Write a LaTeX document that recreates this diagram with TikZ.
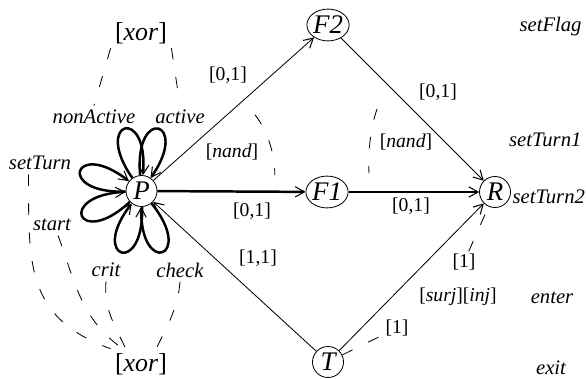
\documentclass[tikz,border=0pt]{standalone}
\usepackage{fontspec}
\setmainfont{Liberation Serif}
\usetikzlibrary{arrows.meta,shapes.geometric}
\tikzset{
  >={Straight Barb[length=4.5pt,width=5pt,line width=0.5pt]},
  font=\fontsize{10}{12}\selectfont,
  state/.style ={draw, circle, inner sep=0pt, minimum size=15pt, font=\fontsize{13}{15}\selectfont\itshape},
  flag/.style  ={draw, ellipse, inner sep=0pt, minimum width=19.3pt, minimum height=15.4pt, font=\fontsize{13}{15}\selectfont\itshape},
  arr/.style   ={->},
  barr/.style  ={->, very thick},
  petal/.style ={->, very thick, distance=34pt},
  cons/.style  ={dash pattern=on 5.5pt off 8.5pt},
  lbl/.style   ={font=\fontsize{9.5}{11}\selectfont, inner sep=1pt},
  fname/.style ={font=\itshape, inner sep=2pt},
  grp/.style   ={font=\fontsize{12.5}{14}\selectfont, inner sep=2pt},
}
\begin{document}
\begin{tikzpicture}[x=0.17mm, y=-0.17mm]
  \useasboundingbox (0,0) rectangle (586,379);
  % states
  \node[state] (P) at (141.5,191) {P};
  \node[flag] (F2) at (328,25) {F2};
  \node[flag] (F1) at (327,192) {F1};
  \node[state] (R) at (495,192) {R};
  \node[state] (T) at (328,362) {T};
  % self loops of P
  \foreach \a [evaluate=\a as \o using \a+20, evaluate=\a as \i using \a-20] in {75,105,162,203,252,289}
    \draw[petal] (P) to[out=\o, in=\i] (P);
  \node[fname] (nact) at (94,117) {nonActive};
  \node[fname] (actv) at (180,117) {active};
  \node[fname] (sett) at (40,163) {setTurn};
  \node[fname] (strt) at (52,225) {start};
  \node[fname] (crit) at (106,270) {crit};
  \node[fname] (chk) at (180,270) {check};
  \node[grp] (xt) at (141,33) {[\textit{xor}]};
  \node[grp] (xb) at (141,364) {[\textit{xor}]};
  % transitions
  \draw[arr] (P) -- (F2);
  \draw[barr] (P) -- (F1);
  \draw[arr] (T) -- (P);
  \draw[arr] (F2) -- (R);
  \draw[barr] (F1) -- (R);
  \draw[arr] (T) -- (R);
  % multiplicities
  \node[lbl] (m1) at (228,75) {[0,1]};
  \node[lbl] (m2) at (252,211) {[0,1]};
  \node[lbl] (m3) at (258,258) {[1,1]};
  \node[lbl] (m4) at (438,92) {[0,1]};
  \node[lbl] (m5) at (411,206) {[0,1]};
  \node[lbl] (onea) at (464,262) {[1]};
  \node[lbl] (sj) at (458,297) {[\textit{surj}][\textit{inj}]};
  \node[lbl] (oneb) at (397,328) {[1]};
  \node[lbl] (np) at (232,152) {[\textit{nand}]};
  \node[lbl] (nr) at (406,142) {[\textit{nand}]};
  % constraints
  \draw[cons] (xt.south west) -- (nact.north);
  \draw[cons] (xt.south east) -- (actv.north);
  \draw[cons] (sett.225) to[out=-90, in=160, looseness=1.2] (xb.north west);
  \draw[cons] (strt.-60) to[out=-70, in=145] (xb.140);
  \draw[cons] (crit.south) to[out=-95, in=115] (xb.135);
  \draw[cons] (chk.south) to[out=-95, in=65] (xb.45);
  \path (P) -- coordinate[pos=.56] (pa) (F2);
  \path (P) -- coordinate[pos=.79] (pb) (F1);
  \draw[cons, shorten <=9pt, shorten >=8pt] (pa) to[bend left=20] (pb);
  \path (F2) -- coordinate[pos=.32] (ra) (R);
  \path (F1) -- coordinate[pos=.165] (rb) (R);
  \draw[cons, shorten <=13pt, shorten >=9pt] (ra) to[bend right=12] (rb);
  \draw[cons] (T) -- (oneb);
  \draw[cons] (onea) -- (R);
  % actions
  \node[fname, anchor=west] (sf) at (515,27) {setFlag};
  \node[fname, anchor=east] (st1) at (586,140) {setTurn1};
  \node[fname, anchor=west] (st2) at (508,197) {setTurn2};
  \node[fname] (ent) at (552,298) {enter};
  \node[fname] (ext) at (551,368) {exit};
\end{tikzpicture}
\end{document}
